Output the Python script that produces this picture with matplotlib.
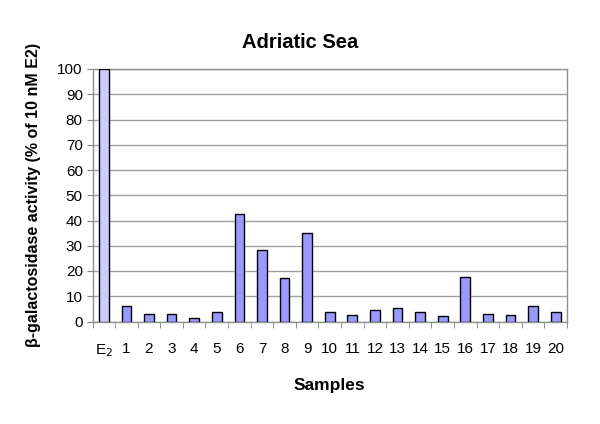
import matplotlib
matplotlib.use("Agg")
import matplotlib.pyplot as plt
import numpy as np

plt.rcParams["font.family"] = ["Liberation Sans", "DejaVu Sans"]

# valeurs
samples = ["E$_2$"] + [str(i) for i in range(1, 21)]
activity = [100, 6.0, 3.0, 3.0, 1.3, 3.6, 42.7, 28.2, 17.1, 35.2, 3.6,
            2.5, 4.4, 5.4, 3.6, 2.0, 17.6, 3.0, 2.5, 6.0, 3.6]
y_ticks = list(range(0, 101, 10))

fig = plt.figure(figsize=(6, 4.24), dpi=100)
ax = fig.add_axes([92.5 / 600, 1 - 321.5 / 424, 474.5 / 600, 252.5 / 424])

x = np.arange(len(samples))
colors = ["#ccccff"] + ["#9999ff"] * (len(samples) - 1)
ax.bar(x, activity, width=0.43, color=colors, edgecolor="black", linewidth=1, zorder=3)

ax.set_xlim(-0.5, len(samples) - 0.5)
ax.set_ylim(0, 100)
ax.set_yticks(y_ticks)
ax.set_yticklabels([str(t) for t in y_ticks], fontsize=11)
ax.set_xticks(x)
ax.set_xticklabels(samples, fontsize=11)
# petits traits entre les categories comme dans excel
ax.set_xticks(np.arange(-0.5, len(samples), 1), minor=True)
ax.tick_params(axis="x", which="major", length=0, pad=15)
ax.tick_params(axis="x", which="minor", length=4, color="#808080", direction="out")
ax.tick_params(axis="y", length=4, color="#808080", direction="out", pad=3)

ax.yaxis.grid(True, color="#a0a0a0", linewidth=1, zorder=0)
for s in ax.spines.values():
    s.set_color("#909090")
    s.set_linewidth(1)

ax.set_ylabel("β-galactosidase activity (% of 10 nM E2)", fontsize=11.5,
              fontweight="bold", labelpad=12)
ax.set_xlabel("Samples", fontsize=12.5, fontweight="bold", labelpad=14)
fig.text(0.5, 1 - 42 / 424, "Adriatic Sea", ha="center", va="center",
         fontsize=14.5, fontweight="bold")

fig.savefig("out.png", dpi=100)
